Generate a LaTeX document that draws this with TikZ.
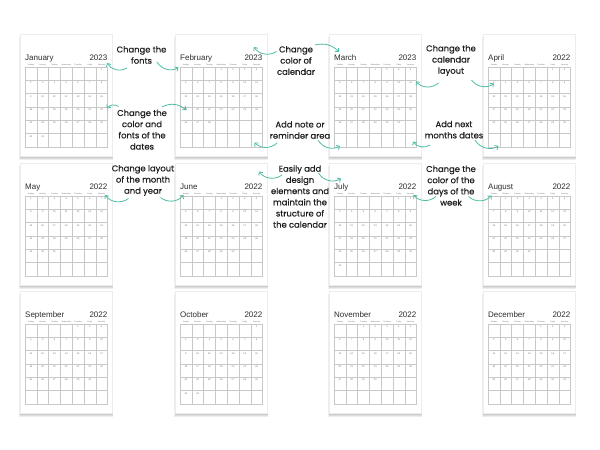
\documentclass[tikz,border=0pt]{standalone}
\usepackage{fontspec}
\setmainfont{Liberation Sans}
\newfontfamily\annfont{Poppins}[FakeBold=0.5]
\usetikzlibrary{arrows.meta}
\definecolor{teal1}{RGB}{79,189,165}
\definecolor{gridc}{RGB}{200,200,200}
\definecolor{titc}{RGB}{45,45,45}
\definecolor{numc}{RGB}{110,110,110}
\definecolor{annc}{RGB}{30,30,30}
\tikzset{
  page/.style={fill=white, draw=black!7, line width=0.2pt, minimum width=92pt, minimum height=122pt, inner sep=0pt},
  ttl/.style={font=\fontsize{8}{9}\selectfont, text=titc, inner sep=0pt},
  dayn/.style={font=\fontsize{1.8}{2}\selectfont, text=black!55, inner sep=0pt},
  num/.style={font=\fontsize{2.4}{3}\selectfont, text=numc, inner sep=0pt},
  gridl/.style={draw=gridc, line width=0.35pt},
  ann/.style={font=\annfont\fontsize{8.4}{11.2}\selectfont, text=annc, align=center, inner sep=0pt},
  arr/.style={draw=teal1, line width=0.8pt, -{Straight Barb[length=2.6pt,width=5pt]}}
}
\newcommand\calpage[7]{%
 \begin{scope}[shift={(#2,{450-#3})}]
  \foreach \s in {3.2,2.2,1.3,0.6}{\fill[black,opacity=0.07] ({-0.35*\s+0.3},{-122-0.4-\s}) rectangle ({92+0.35*\s+0.3},{-3});}
  \node[page, anchor=north west] (#1) at (0,0) {};
  \node[ttl, anchor=base west] (#1-m) at (5,-27) {#4};
  \node[ttl, anchor=base east] (#1-y) at (87.5,-27) {#5};
  \foreach \n [count=\i from 0] in {Sunday,Monday,Tuesday,Wednesday,Thursday,Friday,Saturday}
    {\node[dayn] (#1-w\i) at ({5+(\i+0.5)*82.5/7},-30.8) {\n};}
  \foreach \i in {0,...,7} {\draw[gridl] ({5+\i*82.5/7},-33) -- ({5+\i*82.5/7},-113);}
  \foreach \j in {0,...,6} {\draw[gridl] (5,{-33-\j*80/6}) -- (87.5,{-33-\j*80/6});}
  \foreach \d in {1,...,#7}{%
    \pgfmathtruncatemacro\cpk{\d-1+#6}%
    \pgfmathtruncatemacro\cpcol{mod(\cpk,7)}%
    \pgfmathtruncatemacro\cprow{\cpk/7}%
    \node[num] (#1-n\d) at ({5+(\cpcol+0.5)*82.5/7},{-33-\cprow*80/6-2.6}) {\d};}
 \end{scope}}
\begin{document}
\begin{tikzpicture}[x=1pt,y=1pt]
\fill[white] (0,0) rectangle (600,450);
\useasboundingbox (0,0) rectangle (600,450);
% pages
\calpage{jan}{20}{34}{January}{2023}{6}{31}
\calpage{feb}{175}{34}{February}{2023}{3}{28}
\calpage{mar}{329}{34}{March}{2023}{3}{31}
\calpage{apr}{483}{34}{April}{2022}{5}{30}
\calpage{may}{20}{163}{May}{2022}{0}{31}
\calpage{jun}{175}{163}{June}{2022}{3}{30}
\calpage{jul}{329}{163}{July}{2022}{5}{31}
\calpage{aug}{483}{163}{August}{2022}{1}{31}
\calpage{sep}{20}{291}{September}{2022}{4}{30}
\calpage{oct}{175}{291}{October}{2022}{6}{31}
\calpage{nov}{329}{291}{November}{2022}{2}{30}
\calpage{dec}{483}{291}{December}{2022}{4}{31}
% annotations
\node[ann] (t1) at (141.5,395) {Change the\\fonts};
\node[ann] (t2) at (142,320.3) {Change the\\color and\\fonts of the\\dates};
\node[ann] (t3) at (296,389.5) {Change\\color of\\calendar};
\node[ann] (t4) at (300,320) {Add note or\\reminder area};
\node[ann] (t5) at (451,389.5) {Change the\\calendar\\layout};
\node[ann] (t6) at (454,320.3) {Add next\\months dates};
\node[ann] (t7) at (143,269.5) {Change layout\\of the month\\and year};
\node[ann] (t8) at (300,253.5) {Easily add\\design\\elements and\\maintain the\\structure of\\the calendar};
\node[ann] (t9) at (451,264.3) {Change the\\color of the\\days of the\\week};
% arrow coordinates
\coordinate (s1) at (127,382);   \coordinate (e1) at (107,387);
\coordinate (s2) at (157,388);   \coordinate (e2) at (178.5,382.5);
\coordinate (s3) at (118.5,343.5); \coordinate (e3) at (107,341.5);
\coordinate (s4) at (162,343);   \coordinate (e4) at (186,340);
\coordinate (s5) at (276.5,398.5); \coordinate (e5) at (254,403);
\coordinate (s6) at (315,405);   \coordinate (e6) at (339,398);
\coordinate (s7) at (277,307);   \coordinate (e7) at (254.5,307.5);
\coordinate (s8) at (318,310);   \coordinate (e8) at (340,304);
\coordinate (s9) at (438.5,367); \coordinate (e9) at (416,368.5);
\coordinate (s10) at (471.5,370); \coordinate (e10) at (494,366.5);
\coordinate (s11) at (430,305);  \coordinate (e11) at (413,308.5);
\coordinate (s12) at (475,310);  \coordinate (e12) at (498.5,304);
\coordinate (s13) at (128.5,251.5); \coordinate (e13) at (105,255);
\coordinate (s14) at (160.5,252.5); \coordinate (e14) at (183.5,255);
\coordinate (s15) at (282,275);  \coordinate (e15) at (259,278.5);
\coordinate (s16) at (318.5,277); \coordinate (e16) at (341,271.5);
\coordinate (s17) at (436,253.5); \coordinate (e17) at (413.5,255);
\coordinate (s18) at (468.5,253.5); \coordinate (e18) at (491.5,254.5);
% arrows
\draw[arr] (s1) to[bend left=45] (e1);
\draw[arr] (s2) to[bend right=45] (e2);
\draw[arr] (s3) to[bend right=45] (e3);
\draw[arr] (s4) to[bend left=35] (e4);
\draw[arr] (s5) to[bend left=45] (e5);
\draw[arr] (s6) to[bend left=30] (e6);
\draw[arr] (s7) to[bend left=45] (e7);
\draw[arr] (s8) to[bend right=45] (e8);
\draw[arr] (s9) to[bend left=45] (e9);
\draw[arr] (s10) to[bend right=45] (e10);
\draw[arr] (s11) to[bend left=45] (e11);
\draw[arr] (s12) to[bend right=45] (e12);
\draw[arr] (s13) to[bend left=45] (e13);
\draw[arr] (s14) to[bend right=45] (e14);
\draw[arr] (s15) to[bend left=45] (e15);
\draw[arr] (s16) to[bend right=45] (e16);
\draw[arr] (s17) to[bend left=45] (e17);
\draw[arr] (s18) to[bend right=45] (e18);
\end{tikzpicture}
\end{document}
